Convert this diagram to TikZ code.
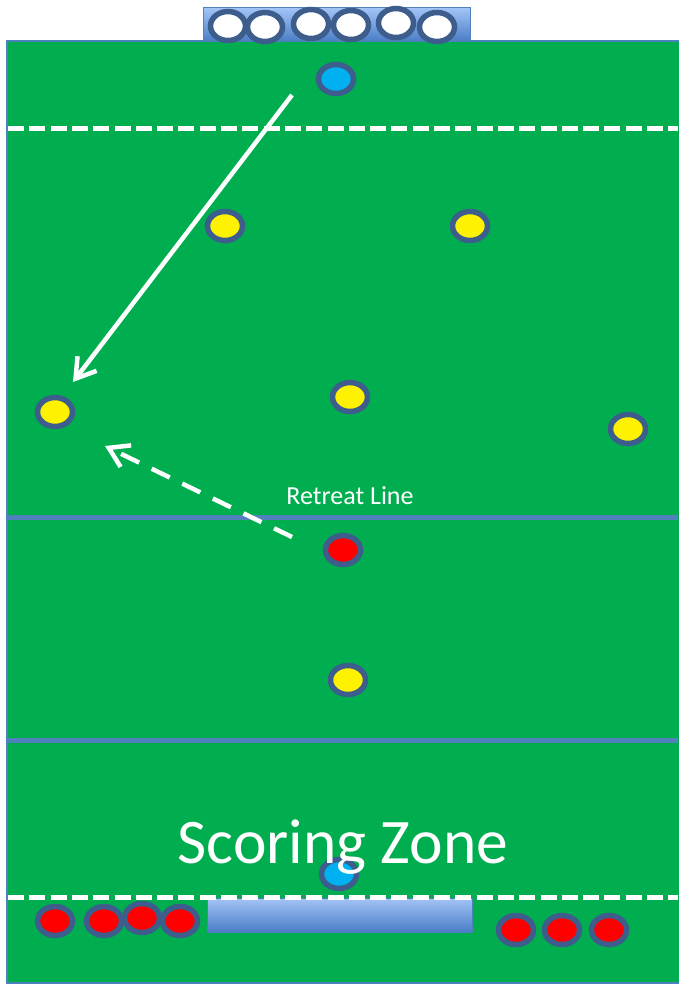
\documentclass[tikz,border=0pt]{standalone}
\usepackage{fontspec}
\setmainfont{Carlito}
\usetikzlibrary{arrows.meta, shapes.geometric, positioning}
\definecolor{pitchGreen}{HTML}{00AE50}
\definecolor{ringBlue}{HTML}{3D5D8C}
\definecolor{lineBlue}{HTML}{4F81BD}
\definecolor{benchTop}{HTML}{A3C5F7}
\definecolor{benchBot}{HTML}{4A7DC6}
\definecolor{ballCyan}{HTML}{00B0F0}
\tikzset{
  player/.style     = {ellipse, draw=ringBlue, line width=5.5pt,
                       minimum width=35pt, minimum height=29pt, inner sep=0pt},
  yellowp/.style    = {player, fill=yellow},
  redp/.style       = {player, fill=red},
  cyanp/.style      = {player, fill=ballCyan},
  whitep/.style     = {player, fill=white},
  zoneline/.style   = {lineBlue, line width=5pt},
  dashline/.style   = {white, line width=5pt, dash pattern=on 16pt off 5.3pt},
  benchbox/.style   = {rectangle, top color=benchTop, bottom color=benchBot,
                       draw=lineBlue, line width=1pt, inner sep=0pt},
  passarrow/.style  = {white, line width=4.5pt,
                       -{Straight Barb[length=19pt, width=24pt, line width=4.5pt]}},
  runarrow/.style   = {passarrow, dash pattern=on 20pt off 14pt},
  lbl/.style        = {white, anchor=base},
}

\begin{document}
\begin{tikzpicture}[x=1pt, y=-1pt]
  \useasboundingbox (0,0) rectangle (678,985);

  % bench at the top, behind the pitch
  \node[benchbox, minimum width=267pt, minimum height=34pt] (topbench) at (336.5,24.5) {};

  % the pitch
  \fill[pitchGreen] (7,41) rectangle (690,983);
  \draw[lineBlue, line width=1.5pt] (690,41) -- (7,41) -- (7,983) -- (690,983);

  % lines across the pitch
  \draw[dashline] (8,128) -- (678,128);
  \draw[zoneline] (7,517) -- (678,517);
  \draw[zoneline] (7,740) -- (678,740);

  % bench at the bottom
  \node[benchbox, minimum width=265pt, minimum height=34pt] (botbench) at (339.5,915) {};
  \draw[dashline] (8,897) -- (678,897);

  % waiting players on the top bench
  \foreach \n/\x/\y in {1/228/26, 2/265/27, 3/311/24, 4/351/25, 5/396/23, 6/437/27}
    \node[whitep] (w\n) at (\x,\y) {};

  % players on the pitch
  \node[cyanp] (topcyan) at (336,79) {};
  \node[yellowp] (y1) at (225,226) {};
  \node[yellowp] (y2) at (470,226) {};
  \node[yellowp] (y3) at (350,397) {};
  \node[yellowp] (y4) at (55,412) {};
  \node[yellowp] (y5) at (628,429) {};
  \node[redp] (midred) at (343,550) {};
  \node[yellowp] (y6) at (348,680) {};
  \node[cyanp] (botcyan) at (339,874) {};

  % red players by the bottom bench
  \node[redp] (r1) at (55,921) {};
  \node[redp] (r2) at (104,921) {};
  \node[redp] (r3) at (142,918) {};
  \node[redp] (r4) at (180,921) {};
  \node[redp] (r5) at (516,930) {};
  \node[redp] (r6) at (562,930) {};
  \node[redp] (r7) at (609,930) {};

  % the pass and the run back
  \coordinate (passfrom) at (292,95);
  \coordinate (passto) at (73,382);
  \coordinate (runfrom) at (292,537);
  \coordinate (runto) at (105,446);
  \draw[passarrow] (passfrom) -- (passto);
  \draw[runarrow] (runfrom) -- (runto);

  \node[lbl, font=\fontsize{26}{30}\selectfont] (retreat) at (350,504) {Retreat Line};
  \node[lbl, font=\fontsize{63.5}{70}\selectfont] (scoring) at (343,863) {Scoring Zone};
\end{tikzpicture}
\end{document}
